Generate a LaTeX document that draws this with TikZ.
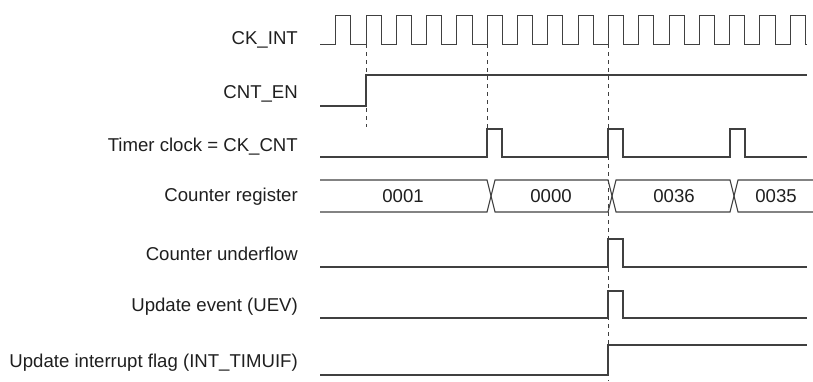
\documentclass[tikz,border=0pt]{standalone}
\usepackage{fontspec}
\setmainfont{Liberation Sans}
\usetikzlibrary{positioning}

\definecolor{wavegray}{gray}{0.25}
\definecolor{textgray}{gray}{0.12}

\begin{document}
\begin{tikzpicture}[
      x=1pt, y=-1pt,
      wave/.style={
        draw=wavegray,
        line width=1.3pt,
        line join=miter
      },
      guide/.style={
        draw=wavegray,
        line width=0.6pt,
        dash pattern=on 4pt off 4pt
      },
      siglabel/.style={
        anchor=east,
        inner sep=0pt,
        text=textgray,
        font=\fontsize{18.6}{20}\selectfont
      },
      busval/.style={
        inner sep=0pt,
        text=textgray,
        font=\fontsize{18.6}{20}\selectfont
      }
    ]

    \useasboundingbox (0,0) rectangle (813,381);

    % Edges of CK_INT used as reference instants
    \coordinate (T1) at (366,0);   % CNT_EN goes high
    \coordinate (T5) at (487,0);   % first CK_CNT pulse
    \coordinate (T9) at (608,0);   % underflow / UEV

    % Signal names
    \node[siglabel] (ckint)  at (298,40)  {CK\_INT};
    \node[siglabel] (cnten)  at (298,94)  {CNT\_EN};
    \node[siglabel] (ckcnt)  at (298,147) {Timer clock = CK\_CNT};
    \node[siglabel] (cntreg) at (298,197) {Counter register};
    \node[siglabel] (undfl)  at (298,254) {Counter underflow};
    \node[siglabel] (uev)    at (298,307) {Update event (UEV)};
    \node[siglabel] (uif)    at (298,363) {Update interrupt flag (INT\_TIMUIF)};

    % Dashed guides
    \draw[guide] (T1 |- 0,44) -- (T1 |- 0,127);
    \draw[guide] (T5 |- 0,44) -- (T5 |- 0,129);
    \draw[guide] (T9 |- 0,44) -- (T9 |- 0,381);

    % CK_INT
    \draw[wave, line width=1pt] (320,44)
      \foreach \k in {0,...,15} {
        -- ({335.7+30.3*\k},44) -- ++(0,-29) -- ++(15.15,0) -- ++(0,29)
      } -- (807,44);

    % CNT_EN
    \draw[wave, line width=1.6pt] (320,106) -- (366,106) -- (366,75) -- (807,75);

    % Timer clock = CK_CNT
    \draw[wave] (320,157)
      -- (487,157) -- ++(0,-28) -- ++(15,0) -- ++(0,28)
      -- (608,157) -- ++(0,-28) -- ++(15,0) -- ++(0,28)
      -- (730,157) -- ++(0,-28) -- ++(15,0) -- ++(0,28)
      -- (807,157);

    % Counter register
    \draw[wave, line width=1.1pt] (320,180) -- (487,180) -- (495,212) -- (608,212)
      -- (616,180) -- (730,180) -- (738,212) -- (813,212);
    \draw[wave, line width=1.1pt] (320,212) -- (487,212) -- (495,180) -- (608,180)
      -- (616,212) -- (730,212) -- (738,180) -- (813,180);
    \node[busval] (v1) at (403,196) {0001};
    \node[busval] (v0) at (551,196) {0000};
    \node[busval] (v36) at (674,196) {0036};
    \node[busval] (v35) at (776,196) {0035};

    % Counter underflow
    \draw[wave] (320,267) -- (608,267) -- ++(0,-28) -- ++(15,0) -- ++(0,28) -- (807,267);

    % Update event (UEV)
    \draw[wave] (320,318) -- (608,318) -- ++(0,-27) -- ++(15,0) -- ++(0,27) -- (807,318);

    % Update interrupt flag
    \draw[wave] (320,375) -- (608,375) -- (608,345) -- (807,345);

\end{tikzpicture}
\end{document}
